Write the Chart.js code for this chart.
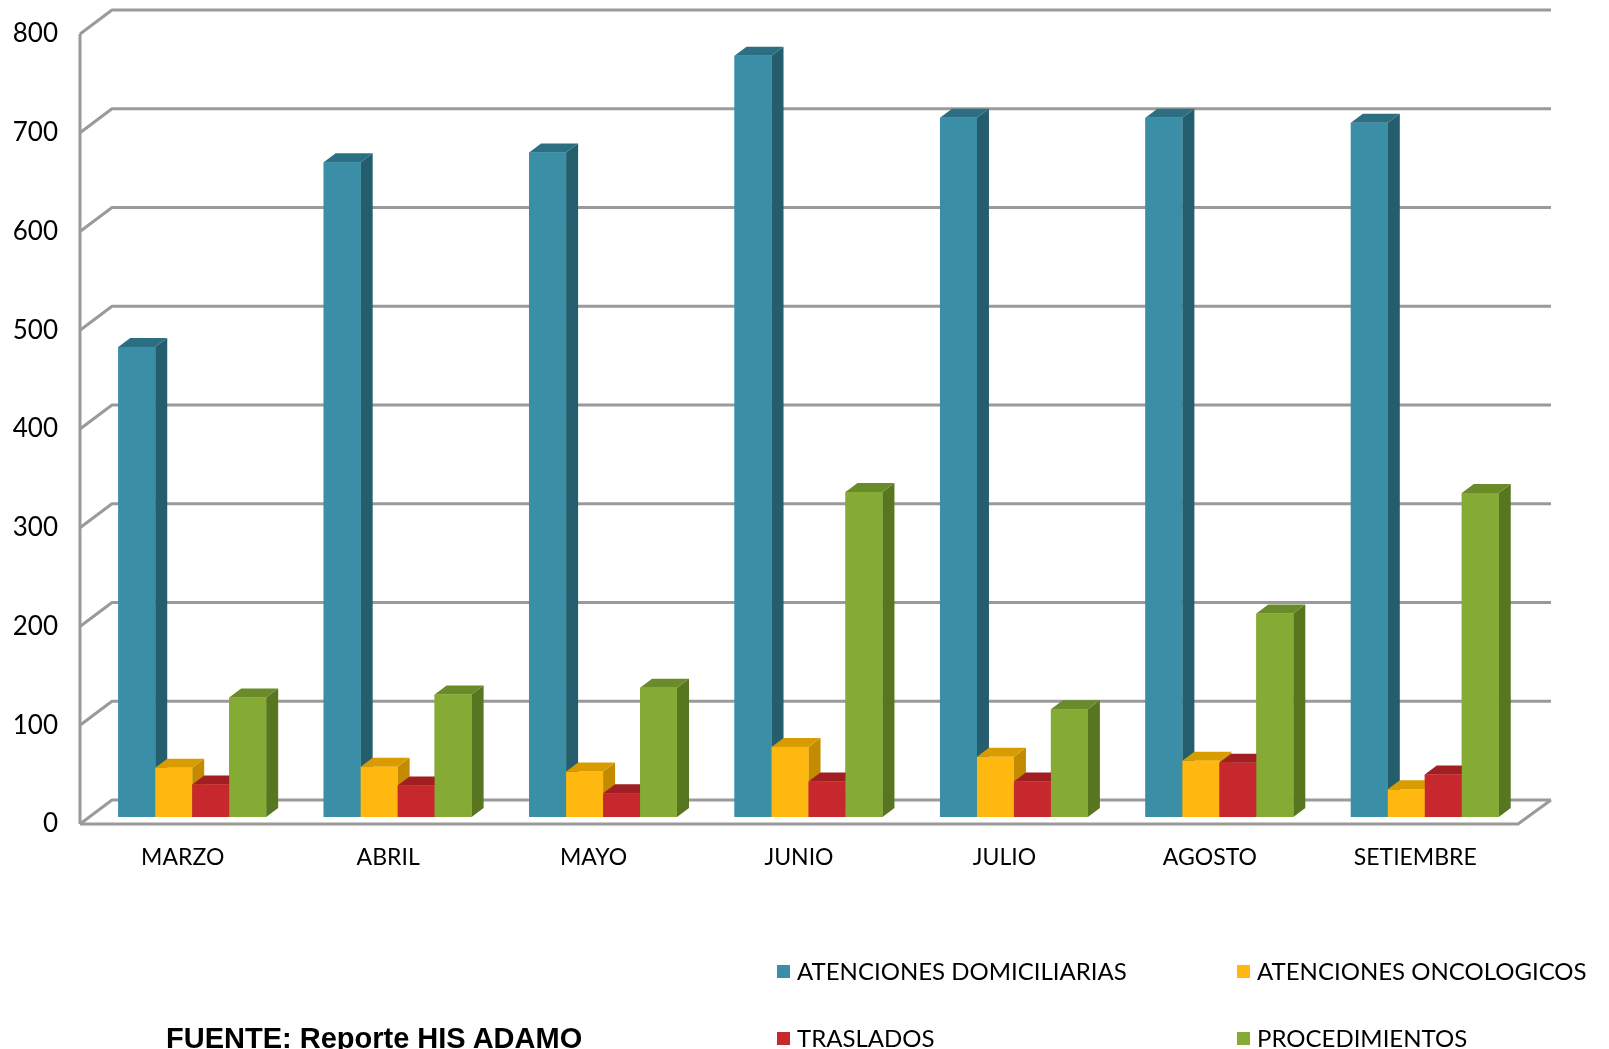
<!DOCTYPE html>
<html>
<head>
<meta charset="utf-8">
<title>Atenciones por mes</title>
<script src="https://cdn.jsdelivr.net/npm/chart.js@4.4.1/dist/chart.umd.min.js"></script>
<style>
    html, body { margin: 0; padding: 0; background: #fff; }
    #wrap { position: relative; width: 1609px; height: 1049px; overflow: hidden; }
    #chart { position: absolute; left: 0; top: 0; }
    .leg {
        position: absolute;
        display: flex;
        align-items: center;
        height: 24px;
        font-family: Lato, "Open Sans", sans-serif;
        font-size: 24px;
        line-height: 24px;
        color: #000;
        white-space: nowrap;
    }
    .leg span.box { display: inline-block; width: 13px; height: 13px; margin-right: 7px; }
    #fuente {
        position: absolute;
        left: 166px;
        top: 1024px;
        font-family: "Liberation Sans", Arial, sans-serif;
        font-weight: bold;
        font-size: 29px;
        line-height: 29px;
        color: #000;
        white-space: nowrap;
    }
</style>
</head>
<body>
<div id="wrap">
    <canvas id="chart" width="1609" height="1049"></canvas>
    <div id="legend"></div>
    <div id="fuente">FUENTE: Reporte HIS ADAMO</div>
</div>

<script>
// ==========================
// Data
// ==========================
const months = ["MARZO", "ABRIL", "MAYO", "JUNIO", "JULIO", "AGOSTO", "SETIEMBRE"];

const seriesNames = [
    "ATENCIONES DOMICILIARIAS",
    "ATENCIONES ONCOLOGICOS",
    "TRASLADOS",
    "PROCEDIMIENTOS"
];

const domiciliarias  = [476, 663, 673, 771, 708, 708, 703];
const oncologicos    = [50, 51, 46, 71, 61, 57, 28];
const traslados      = [33, 32, 24, 36, 36, 55, 43];
const procedimientos = [121, 124, 131, 329, 109, 206, 328];

// front / side / top colours for each series
const frontColors = ["#3a8fa7", "#ffb810", "#c7282d", "#85ab35"];
const sideColors  = ["#245d6b", "#c48b00", "#8d1b1f", "#587520"];
const topColors   = ["#2c6f82", "#d89c00", "#a11f23", "#6a8b2a"];

// ==========================
// 3D look
// ==========================
const GRID_COLOR = "#9a9a9a";
const WALL_DX = 32, WALL_DY = 24;     // depth of the whole box
const BAR_SHIFT_X = 9.5, BAR_SHIFT_Y = 7; // bar plane sits a bit behind the front
const BAR_DX = 12, BAR_DY = 9;         // depth of each bar

const depth3d = {
    id: "depth3d",
    beforeDatasetsDraw(chart) {
        const ctx = chart.ctx;
        const y = chart.scales.y;
        const area = chart.chartArea;
        const frontL = area.left - BAR_SHIFT_X;
        const frontR = area.right - BAR_SHIFT_X;

        ctx.save();
        ctx.strokeStyle = GRID_COLOR;
        ctx.lineWidth = 3;
        ctx.lineJoin = "round";

        // back wall grid lines + left wall diagonals
        for (const t of y.ticks) {
            const py = y.getPixelForValue(t.value);
            const fy = py + BAR_SHIFT_Y;
            ctx.beginPath();
            ctx.moveTo(frontL, fy);
            ctx.lineTo(frontL + WALL_DX, fy - WALL_DY);
            ctx.lineTo(frontR + WALL_DX + 1, fy - WALL_DY);
            ctx.stroke();
        }

        // front vertical axis
        const yTop = y.getPixelForValue(y.max) + BAR_SHIFT_Y;
        const yBot = y.getPixelForValue(0) + BAR_SHIFT_Y;
        ctx.beginPath();
        ctx.moveTo(frontL, yTop);
        ctx.lineTo(frontL, yBot);
        ctx.stroke();

        // floor front edge and right side
        ctx.beginPath();
        ctx.moveTo(frontL, yBot);
        ctx.lineTo(frontR, yBot);
        ctx.lineTo(frontR + WALL_DX + 1, yBot - WALL_DY);
        ctx.stroke();
        ctx.restore();
    },

    afterDatasetsDraw(chart) {
        // redraw in series order so each bar covers the side of the one on its left
        const ctx = chart.ctx;
        ctx.save();
        chart.data.datasets.forEach((ds, di) => {
            const meta = chart.getDatasetMeta(di);
            meta.data.forEach(bar => {
                const p = bar.getProps(["x", "y", "base", "width"], true);
                const x0 = p.x - p.width / 2, x1 = p.x + p.width / 2;
                const top = p.y, base = p.base;

                // side
                ctx.fillStyle = sideColors[di];
                ctx.beginPath();
                ctx.moveTo(x1, top);
                ctx.lineTo(x1 + BAR_DX, top - BAR_DY);
                ctx.lineTo(x1 + BAR_DX, base - BAR_DY);
                ctx.lineTo(x1, base);
                ctx.closePath();
                ctx.fill();

                // top
                ctx.fillStyle = topColors[di];
                ctx.beginPath();
                ctx.moveTo(x0, top);
                ctx.lineTo(x0 + BAR_DX, top - BAR_DY);
                ctx.lineTo(x1 + BAR_DX, top - BAR_DY);
                ctx.lineTo(x1, top);
                ctx.closePath();
                ctx.fill();

                // front
                ctx.fillStyle = frontColors[di];
                ctx.fillRect(x0, top, x1 - x0, base - top);
            });
        });
        ctx.restore();
    }
};

// ==========================
// Chart
// ==========================
const seriesData = [domiciliarias, oncologicos, traslados, procedimientos];

const chart = new Chart(document.getElementById("chart"), {
    type: "bar",
    data: {
        labels: months,
        datasets: seriesNames.map((name, i) => ({
            label: name,
            data: seriesData[i],
            backgroundColor: frontColors[i],
            borderWidth: 0,
            barPercentage: 1,
            categoryPercentage: 0.72
        }))
    },
    options: {
        responsive: false,
        animation: false,
        layout: { padding: { left: 0, right: 81.5, top: 27, bottom: 0 } },
        plugins: {
            legend: { display: false },
            tooltip: { enabled: false }
        },
        scales: {
            x: {
                grid: { display: false },
                border: { display: false },
                ticks: {
                    color: "#000",
                    font: { family: "Lato", size: 23 },
                    padding: 19,
                    labelOffset: -BAR_SHIFT_X,
                    autoSkip: false,
                    maxRotation: 0
                },
                afterFit: s => { s.height = 232; s.paddingLeft = 0; s.paddingRight = 0; }
            },
            y: {
                min: 0,
                max: 800,
                grid: { display: false },
                border: { display: false },
                ticks: {
                    stepSize: 100,
                    color: "#000",
                    font: { family: "Lato", size: 26 },
                    padding: 23.5,
                    labelOffset: BAR_SHIFT_Y
                },
                afterFit: s => { s.width = 89.5; s.paddingTop = 0; s.paddingBottom = 0; }
            }
        }
    },
    plugins: [depth3d]
});

// ==========================
// Legend (2 x 2 under the plot)
// ==========================
const legendCols = [777, 1237];
const legendRows = [959, 1026];
const legendBox = document.getElementById("legend");
seriesNames.forEach((name, i) => {
    const item = document.createElement("div");
    item.className = "leg";
    item.style.left = legendCols[i % 2] + "px";
    item.style.top = legendRows[Math.floor(i / 2)] + "px";
    const box = document.createElement("span");
    box.className = "box";
    box.style.background = frontColors[i];
    item.appendChild(box);
    item.appendChild(document.createTextNode(name));
    legendBox.appendChild(item);
});
</script>
</body>
</html>
